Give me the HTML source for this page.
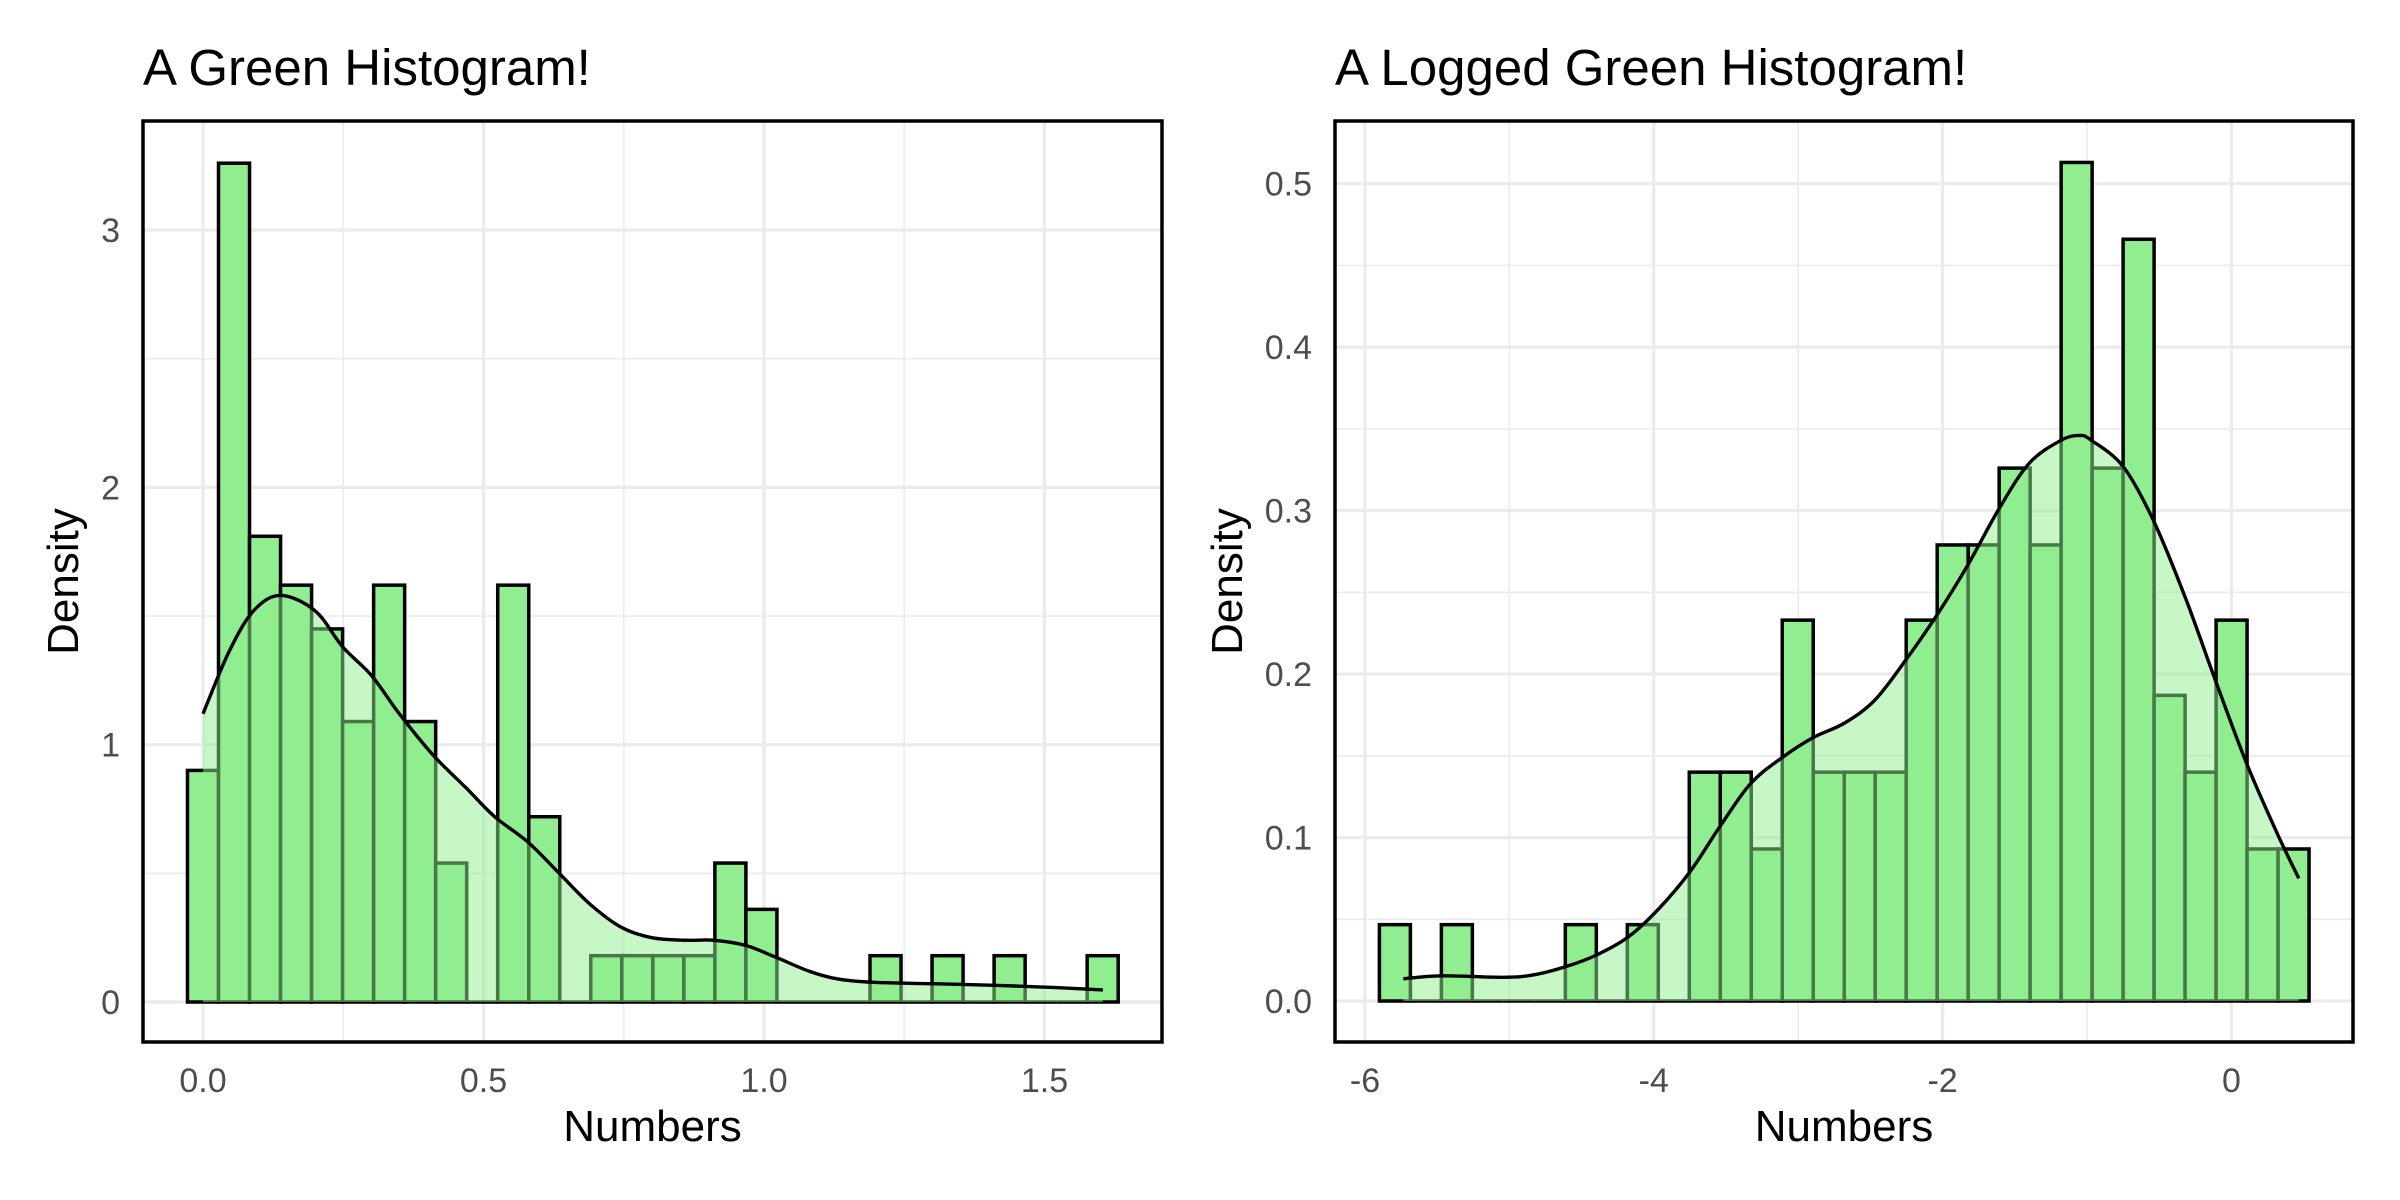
<!DOCTYPE html>
<html><head><meta charset="utf-8"><style>
html,body{margin:0;padding:0;background:#fff;}
svg{display:block;font-family:"Liberation Sans",Arial,sans-serif;}
</style></head><body>
<svg id="chart" width="2400" height="1200" viewBox="0 0 2400 1200" xmlns="http://www.w3.org/2000/svg"></svg>
<script>
// ---- Left chart data ----
const leftBinWidth = 0.0553;
const leftCounts = [0.90,3.26,1.81,1.62,1.45,1.09,1.62,1.09,0.54,0,1.62,0.72,0,0.18,0.18,0.18,0.18,0.54,0.36,0,0,0,0.18,0,0.18,0,0.18,0,0,0.18];
const leftDensX = [0,0.046,0.09,0.138,0.2,0.249,0.30,0.35,0.41,0.47,0.52,0.58,0.635,0.69,0.746,0.80,0.86,0.91,0.967,1.02,1.08,1.13,1.19,1.30,1.41,1.52,1.604];
const leftDensY = [1.12,1.36,1.52,1.58,1.52,1.38,1.27,1.12,0.96,0.83,0.72,0.62,0.50,0.38,0.29,0.25,0.24,0.24,0.22,0.175,0.12,0.09,0.077,0.071,0.065,0.056,0.047];
const leftXTicks = [0,0.5,1.0,1.5];
const leftXLabels = ["0.0","0.5","1.0","1.5"];
const leftXMinor = [0.25,0.75,1.25];
const leftYTicks = [0,1,2,3];
const leftYLabels = ["0","1","2","3"];
const leftYMinor = [0.5,1.5,2.5];
// ---- Right chart data ----
const rightBinWidth = 0.2146;
const rightStart = -5.793;
const rightCounts = [0.0467,0,0.0467,0,0,0,0.0467,0,0.0467,0,0.14,0.14,0.093,0.233,0.14,0.14,0.14,0.233,0.279,0.279,0.326,0.279,0.513,0.326,0.466,0.187,0.14,0.233,0.093,0.093];
const rightDensX = [-5.735,-5.47,-5.04,-4.83,-4.61,-4.40,-4.18,-3.97,-3.75,-3.54,-3.33,-3.11,-2.90,-2.68,-2.47,-2.26,-2.04,-1.83,-1.61,-1.40,-1.18,-1.05,-0.97,-0.75,-0.54,-0.32,-0.11,0.107,0.32,0.467];
const rightDensY = [0.0136,0.0154,0.0145,0.016,0.021,0.028,0.039,0.056,0.079,0.107,0.133,0.149,0.161,0.170,0.184,0.208,0.236,0.266,0.301,0.329,0.343,0.346,0.343,0.327,0.294,0.247,0.196,0.145,0.102,0.075];
const rightXTicks = [-6,-4,-2,0];
const rightXLabels = ["-6","-4","-2","0"];
const rightXMinor = [-5,-3,-1];
const rightYTicks = [0,0.1,0.2,0.3,0.4,0.5];
const rightYLabels = ["0.0","0.1","0.2","0.3","0.4","0.5"];
const rightYMinor = [0.05,0.15,0.25,0.35,0.45];

const NS = "http://www.w3.org/2000/svg";
const svg = document.getElementById('chart');
function mk(tag, attrs, parent){
  const e = document.createElementNS(NS, tag);
  for (const k in attrs) e.setAttribute(k, attrs[k]);
  (parent||svg).appendChild(e);
  return e;
}
function smoothPath(pts){
  let d = "M" + pts[0][0] + "," + pts[0][1];
  for (let i=0;i<pts.length-1;i++){
    const p0=pts[Math.max(0,i-1)], p1=pts[i], p2=pts[i+1], p3=pts[Math.min(pts.length-1,i+2)];
    const c1x=p1[0]+(p2[0]-p0[0])/6, c1y=p1[1]+(p2[1]-p0[1])/6;
    const c2x=p2[0]-(p3[0]-p1[0])/6, c2y=p2[1]-(p3[1]-p1[1])/6;
    d += " C"+c1x+","+c1y+" "+c2x+","+c2y+" "+p2[0]+","+p2[1];
  }
  return d;
}
function panel(cfg){
  const g = mk('g', {});
  
  
  const X = v => cfg.x0 + (v - cfg.xa) * cfg.xs;
  const Y = v => cfg.y0 - v * cfg.ys;
  const L=cfg.L, R=cfg.R, T=121, B=1042;
  cfg.xMinor.forEach(v=>{ const l=mk('line',{x1:X(v),x2:X(v),y1:T,y2:B,stroke:'#ebebeb','stroke-width':1.6},g);
      });
  cfg.yMinor.forEach(v=>{ const l=mk('line',{x1:L,x2:R,y1:Y(v),y2:Y(v),stroke:'#ebebeb','stroke-width':1.6},g);
      });
  cfg.xTicks.forEach((v,i)=>{ const l=mk('line',{x1:X(v),x2:X(v),y1:T,y2:B,stroke:'#ebebeb','stroke-width':3.2},g);
     
    const t=mk('text',{x:X(v),y:1092,'text-anchor':'middle','font-size':34,fill:'#4d4d4d'},g); t.textContent=cfg.xLabels[i];
      });
  cfg.yTicks.forEach((v,i)=>{ const l=mk('line',{x1:L,x2:R,y1:Y(v),y2:Y(v),stroke:'#ebebeb','stroke-width':3.2},g);
     
    const t=mk('text',{x:cfg.yLabX,y:Y(v)+12,'text-anchor':'end','font-size':34,fill:'#4d4d4d'},g); t.textContent=cfg.yLabels[i];
      });
  cfg.counts.forEach((c,i)=>{
    const cx = cfg.start + i*cfg.bw;
    const x1 = X(cx - cfg.bw/2), x2 = X(cx + cfg.bw/2);
    if (c > 0) {
      const r = mk('rect',{x:x1,y:Y(c),width:x2-x1,height:Y(0)-Y(c),fill:'#90ee90',stroke:'#000','stroke-width':3.5},g);
       
    } else {
      const r = mk('line',{x1:x1,x2:x2,y1:Y(0),y2:Y(0),stroke:'#000','stroke-width':3.5},g);
       
    }
  });
  const pts = cfg.dx.map((v,i)=>[X(v),Y(cfg.dy[i])]);
  const curve = smoothPath(pts);
  const area = mk('path',{d: curve + " L"+pts[pts.length-1][0]+","+Y(0)+" L"+pts[0][0]+","+Y(0)+" Z",fill:'#90ee90','fill-opacity':0.5,stroke:'none'},g);
   
  const line = mk('path',{d:curve,fill:'none',stroke:'#000','stroke-width':3.4},g);
   
  const fr = mk('rect',{x:L,y:T,width:R-L,height:B-T,fill:'none',stroke:'#000','stroke-width':3.5},g);
   
  const title = mk('text',{x:L,y:85,'font-size':51,fill:'#000'},g); title.textContent = cfg.title;
   
  const xt = mk('text',{x:(L+R)/2,y:1141,'text-anchor':'middle','font-size':44,fill:'#000'},g); xt.textContent='Numbers';
   
  const yt = mk('text',{x:0,y:0,'text-anchor':'middle','font-size':44,fill:'#000',transform:'translate('+(cfg.yTitleX)+','+((T+B)/2)+') rotate(-90)'},g); yt.textContent='Density';
   
}
panel({name:'left-histogram-panel',title:'A Green Histogram!',L:143,R:1162,x0:203,xa:0,xs:561,y0:1002,ys:257.3,
  start:0,bw:leftBinWidth,counts:leftCounts,dx:leftDensX,dy:leftDensY,xTicks:leftXTicks,xLabels:leftXLabels,xMinor:leftXMinor,
  yTicks:leftYTicks,yLabels:leftYLabels,yMinor:leftYMinor,yLabX:120,yTitleX:78});
panel({name:'right-histogram-panel',title:'A Logged Green Histogram!',L:1335,R:2353,x0:1365,xa:-6,xs:144.4,y0:1001,ys:1634.6,
  start:rightStart,bw:rightBinWidth,counts:rightCounts,dx:rightDensX,dy:rightDensY,xTicks:rightXTicks,xLabels:rightXLabels,xMinor:rightXMinor,
  yTicks:rightYTicks,yLabels:rightYLabels,yMinor:rightYMinor,yLabX:1312,yTitleX:1242});
</script>
</body></html>
